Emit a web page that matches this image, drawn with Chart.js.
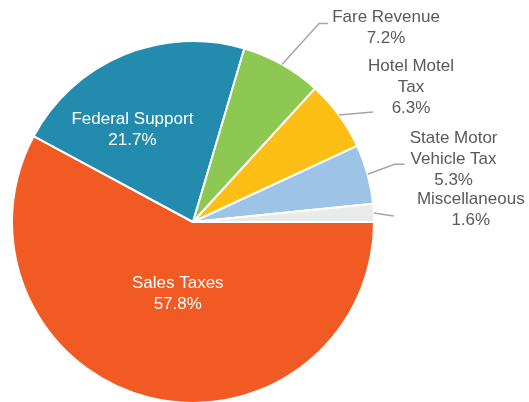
<!DOCTYPE html>
<html>
<head>
<meta charset="utf-8">
<script src="https://cdn.jsdelivr.net/npm/chart.js@4.4.1/dist/chart.umd.min.js"></script>
<style>
    html, body { margin: 0; padding: 0; background: #ffffff; }
    #wrap { width: 529px; height: 402px; position: relative; }
</style>
</head>
<body>
<div id="wrap"><canvas id="pieChart" width="529" height="402"></canvas></div>
<script>
const categories = ["Sales Taxes", "Federal Support", "Fare Revenue", "Hotel Motel Tax", "State Motor Vehicle Tax", "Miscellaneous"];
const shares = [57.8, 21.7, 7.2, 6.3, 5.3, 1.6];
const labelLines = [
    ["Sales Taxes"],
    ["Federal Support"],
    ["Fare Revenue"],
    ["Hotel Motel", "Tax"],
    ["State Motor", "Vehicle Tax"],
    ["Miscellaneous"]
];
const sliceColors = ["#F15A22", "#238BAD", "#8DC853", "#FDBE16", "#9DC3E6", "#E9EAEA"];

// label placement, offsets from the point where the slice's mid angle meets the rim
const labelLayout = [
    { inside: true, tx: 29, ty: -114 },
    { inside: true, tx: 9, ty: 64 },
    { elbow: [37, -41], end: [46, -41], tx: 104, ty: -47 },
    { elbow: [34, -3], end: [34, -3], tx: 72, ty: -49 },
    { elbow: [27, -10], end: [37, -10], tx: 86, ty: -36 },
    { elbow: [20, 3], end: [20, 3], tx: 97, ty: -14 }
];

const LINE_H = 21;

const pieLabels = {
    id: "pieLabels",
    afterDatasetsDraw(chart) {
        const ctx = chart.ctx;
        const arcs = chart.getDatasetMeta(0).data;

        ctx.save();
        ctx.font = "17px 'Liberation Sans', Arial, sans-serif";
        ctx.textAlign = "center";
        ctx.textBaseline = "middle";

        arcs.forEach((arc, i) => {
            const p = arc.getProps(["x", "y", "startAngle", "endAngle", "outerRadius"], true);
            const mid = (p.startAngle + p.endAngle) / 2;
            const ax = p.x + Math.cos(mid) * p.outerRadius;
            const ay = p.y + Math.sin(mid) * p.outerRadius;
            const lay = labelLayout[i];

            if (!lay.inside) {
                ctx.strokeStyle = "#A6A6A6";
                ctx.lineWidth = 1.5;
                ctx.beginPath();
                ctx.moveTo(ax, ay);
                ctx.lineTo(ax + lay.elbow[0], ay + lay.elbow[1]);
                ctx.lineTo(ax + lay.end[0], ay + lay.end[1]);
                ctx.stroke();
            }

            ctx.fillStyle = lay.inside ? "#FFFFFF" : "#595959";
            const lines = [...labelLines[i], shares[i].toFixed(1) + "%"];
            lines.forEach((t, k) => {
                ctx.fillText(t, ax + lay.tx, ay + lay.ty + k * LINE_H);
            });
        });

        ctx.restore();
    }
};

const ctx = document.getElementById("pieChart").getContext("2d");

new Chart(ctx, {
    type: "pie",
    data: {
        labels: categories,
        datasets: [
            {
                data: shares,
                backgroundColor: sliceColors,
                borderColor: "#FFFFFF",
                borderWidth: 2,
                hoverOffset: 0,
                radius: 181
            }
        ]
    },
    options: {
        responsive: false,
        animation: false,
        rotation: 90,
        layout: {
            padding: { top: 42, bottom: 0, left: 12, right: 155 }
        },
        plugins: {
            legend: { display: false },
            tooltip: { enabled: false }
        }
    },
    plugins: [pieLabels]
});
</script>
</body>
</html>
